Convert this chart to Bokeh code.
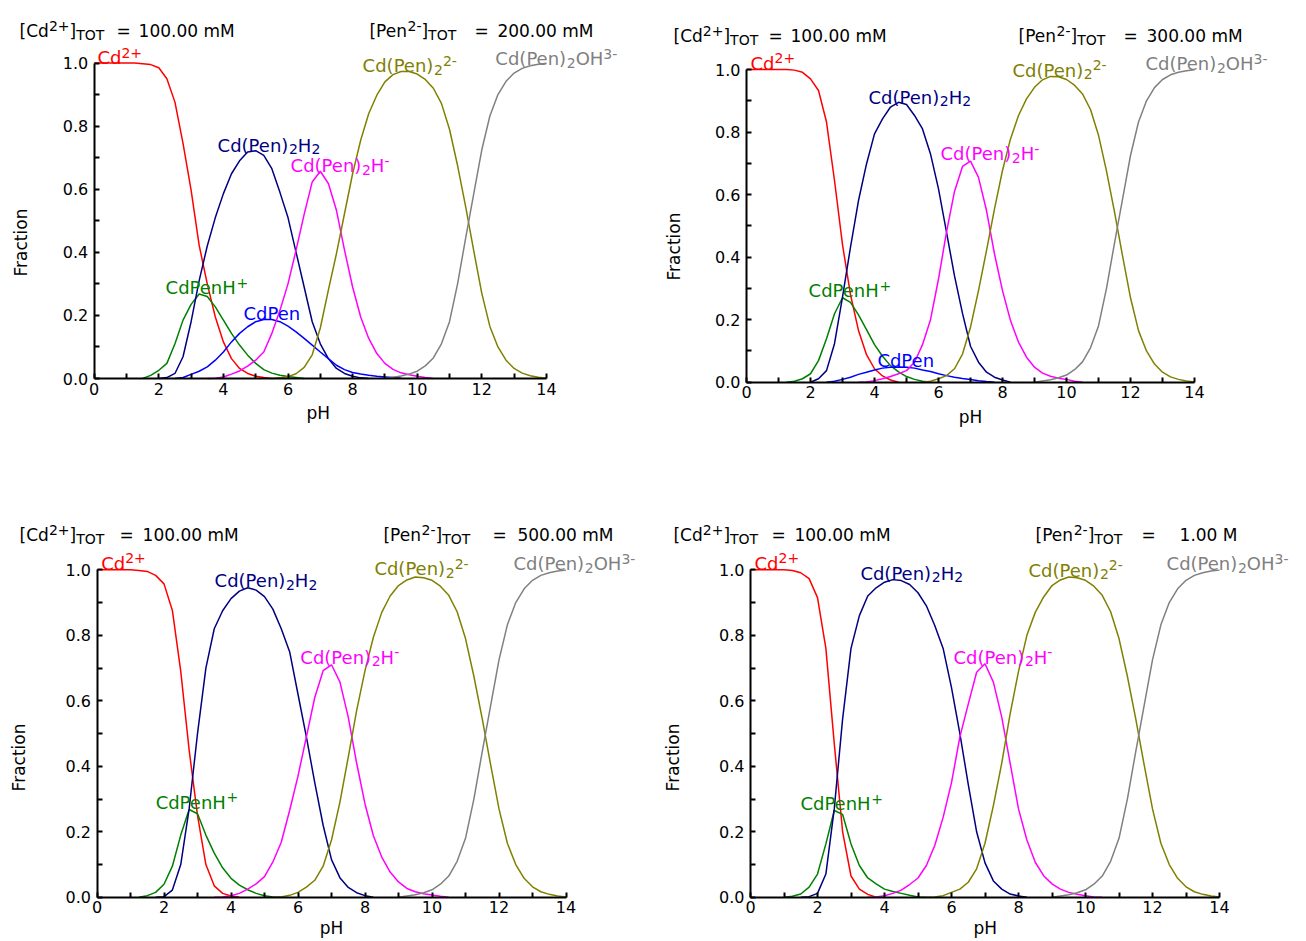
import math
from bokeh.plotting import figure
from bokeh.models import Range1d, Label, FixedTicker, PrintfTickFormatter
from bokeh.layouts import column, row
from bokeh.embed import file_html
from bokeh.resources import INLINE

# ---------------- data (fraction vs pH, sampled every 0.25 pH from a start pH) ----------------
STEP = 0.25
TICKS_X = [0, 2, 4, 6, 8, 10, 12, 14]
MINOR_X = [1, 3, 5, 7, 9, 11, 13]
TICKS_Y = [0.0, 0.2, 0.4, 0.6, 0.8, 1.0]
MINOR_Y = [0.1, 0.3, 0.5, 0.7, 0.9]

CD_TOT = ["100.00 mM", "100.00 mM", "100.00 mM", "100.00 mM"]
PEN_TOT = ["200.00 mM", "300.00 mM", "500.00 mM", "1.00 M"]

# panel 1 : [Pen]tot = 200 mM
P1_CD = (0.0, [1.0, 1.0, 1.0, 1.0, 1.0, 1.0, 0.998, 0.995, 0.985, 0.95, 0.876, 0.745, 0.597, 0.422, 0.30, 0.195,
               0.116, 0.063, 0.032, 0.016, 0.007, 0.003, 0.0])
P1_CDPENH = (1.5, [0.0, 0.01, 0.026, 0.048, 0.11, 0.185, 0.235, 0.268, 0.26, 0.227, 0.185, 0.143, 0.106, 0.074,
                   0.048, 0.028, 0.017, 0.01, 0.006, 0.003, 0.0])
P1_CDPEN2H2 = (2.0, [0.0, 0.003, 0.016, 0.069, 0.18, 0.31, 0.42, 0.51, 0.586, 0.649, 0.69, 0.718, 0.722, 0.707,
                     0.665, 0.59, 0.51, 0.40, 0.29, 0.18, 0.11, 0.063, 0.032, 0.016, 0.007, 0.002, 0.0])
P1_CDPEN = (2.5, [0.0, 0.003, 0.013, 0.023, 0.037, 0.058, 0.084, 0.116, 0.143, 0.164, 0.18, 0.187, 0.187, 0.18,
                  0.166, 0.148, 0.127, 0.106, 0.084, 0.063, 0.042, 0.028, 0.019, 0.014, 0.01, 0.007, 0.005,
                  0.003, 0.001])
P1_CDPEN2H = (3.5, [0.0, 0.001, 0.005, 0.014, 0.024, 0.039, 0.058, 0.084, 0.143, 0.216, 0.30, 0.407, 0.52,
                    0.623, 0.657, 0.618, 0.533, 0.407, 0.29, 0.195, 0.127, 0.079, 0.048, 0.029, 0.018, 0.012,
                    0.007, 0.003, 0.0])
P1_CDPEN2 = (5.5, [0.0, 0.002, 0.006, 0.015, 0.035, 0.075, 0.16, 0.28, 0.396, 0.523, 0.649, 0.755, 0.84, 0.898,
                   0.94, 0.963, 0.973, 0.973, 0.965, 0.948, 0.92, 0.872, 0.79, 0.675, 0.545, 0.405, 0.27, 0.165,
                   0.1, 0.058, 0.032, 0.017, 0.009, 0.004, 0.001])
P1_CDPEN2OH = (9.0, [0.0, 0.004, 0.008, 0.014, 0.023, 0.04, 0.065, 0.11, 0.18, 0.3, 0.445, 0.585, 0.725, 0.832,
                     0.9, 0.942, 0.968, 0.983, 0.991, 0.996, 0.999])

# panel 2 : [Pen]tot = 300 mM
P2_CD = (0.0, [1.0, 1.0, 1.0, 1.0, 1.0, 1.0, 0.998, 0.991, 0.97, 0.933, 0.832, 0.645, 0.44, 0.28, 0.165, 0.088,
               0.043, 0.02, 0.007, 0.0])
P2_CDPENH = (1.25, [0.0, 0.003, 0.011, 0.027, 0.069, 0.139, 0.219, 0.27, 0.255, 0.215, 0.168, 0.12, 0.083, 0.053,
                    0.033, 0.018, 0.009, 0.003, 0.0])
P2_CDPEN2H2 = (2.0, [0.0, 0.011, 0.037, 0.123, 0.272, 0.432, 0.581, 0.698, 0.794, 0.842, 0.88, 0.895, 0.888,
                     0.853, 0.81, 0.73, 0.618, 0.48, 0.34, 0.22, 0.115, 0.064, 0.032, 0.016, 0.007, 0.0])
P2_CDPEN = (2.5, [0.0, 0.003, 0.009, 0.016, 0.025, 0.032, 0.039, 0.045, 0.048, 0.049, 0.048, 0.045, 0.039, 0.034,
                  0.027, 0.021, 0.016, 0.012, 0.009, 0.005, 0.002, 0.0])
P2_CDPEN2H = (3.5, [0.0, 0.001, 0.005, 0.011, 0.018, 0.027, 0.037, 0.064, 0.12, 0.2, 0.33, 0.48, 0.61, 0.69, 0.707,
                    0.655, 0.549, 0.41, 0.293, 0.197, 0.128, 0.08, 0.048, 0.029, 0.019, 0.013, 0.009, 0.003, 0.0])
P2_CDPEN2 = (5.5, [0.0, 0.003, 0.011, 0.021, 0.043, 0.09, 0.176, 0.293, 0.421, 0.554, 0.677, 0.778, 0.853, 0.906,
                   0.943, 0.967, 0.978, 0.977, 0.968, 0.95, 0.922, 0.872, 0.79, 0.675, 0.545, 0.405, 0.27, 0.165,
                   0.1, 0.058, 0.032, 0.017, 0.009, 0.004, 0.001])
P2_CDPEN2OH = (9.0, [0.0, 0.004, 0.008, 0.014, 0.023, 0.04, 0.065, 0.11, 0.18, 0.3, 0.445, 0.585, 0.725, 0.832,
                     0.9, 0.942, 0.968, 0.983, 0.991, 0.996, 0.999])

# panel 3 : [Pen]tot = 500 mM
P3_CD = (0.0, [1.0, 1.0, 1.0, 1.0, 1.0, 0.998, 0.995, 0.983, 0.957, 0.876, 0.69, 0.45, 0.25, 0.1, 0.035, 0.012,
               0.004, 0.0])
P3_CDPENH = (1.25, [0.0, 0.005, 0.015, 0.04, 0.095, 0.19, 0.268, 0.255, 0.19, 0.135, 0.09, 0.058, 0.037, 0.023,
                    0.012, 0.005, 0.001, 0.0])
P3_CDPEN2H2 = (1.75, [0.0, 0.002, 0.022, 0.1, 0.27, 0.5, 0.7, 0.82, 0.875, 0.912, 0.935, 0.945, 0.938, 0.918,
                      0.88, 0.82, 0.75, 0.62, 0.49, 0.35, 0.22, 0.115, 0.06, 0.03, 0.014, 0.005, 0.0])
P3_CDPEN2H = (3.5, [0.0, 0.001, 0.005, 0.012, 0.025, 0.041, 0.063, 0.108, 0.168, 0.265, 0.37, 0.49, 0.61, 0.692,
                    0.71, 0.658, 0.55, 0.41, 0.285, 0.188, 0.123, 0.077, 0.047, 0.027, 0.017, 0.011, 0.007, 0.003,
                    0.0])
P3_CDPEN2 = (5.25, [0.0, 0.001, 0.006, 0.015, 0.031, 0.052, 0.095, 0.175, 0.29, 0.428, 0.57, 0.692, 0.794, 0.87,
                    0.92, 0.952, 0.969, 0.978, 0.976, 0.968, 0.95, 0.922, 0.872, 0.79, 0.675, 0.545, 0.405, 0.27,
                    0.165, 0.1, 0.058, 0.032, 0.017, 0.009, 0.004, 0.001])
P3_CDPEN2OH = (9.0, [0.0, 0.004, 0.008, 0.014, 0.023, 0.04, 0.065, 0.11, 0.18, 0.3, 0.445, 0.585, 0.725, 0.832,
                     0.9, 0.942, 0.968, 0.983, 0.991, 0.996, 0.999])

# panel 4 : [Pen]tot = 1.00 M
P4_CD = (0.0, [1.0, 1.0, 1.0, 1.0, 1.0, 0.998, 0.991, 0.973, 0.915, 0.76, 0.47, 0.2, 0.065, 0.025, 0.009, 0.0])
P4_CDPENH = (1.0, [0.0, 0.003, 0.01, 0.031, 0.071, 0.163, 0.265, 0.253, 0.163, 0.097, 0.059, 0.041, 0.025, 0.018,
                   0.012, 0.006, 0.001, 0.0])
P4_CDPEN2H2 = (1.5, [0.0, 0.002, 0.012, 0.071, 0.27, 0.545, 0.76, 0.86, 0.92, 0.945, 0.962, 0.97, 0.967, 0.955,
                     0.93, 0.89, 0.83, 0.76, 0.64, 0.5, 0.345, 0.2, 0.105, 0.05, 0.025, 0.01, 0.004, 0.0])
P4_CDPEN2H = (3.5, [0.0, 0.001, 0.005, 0.012, 0.022, 0.039, 0.059, 0.097, 0.158, 0.244, 0.35, 0.49, 0.59, 0.687,
                    0.713, 0.657, 0.55, 0.41, 0.27, 0.175, 0.107, 0.066, 0.041, 0.025, 0.015, 0.009, 0.005, 0.001,
                    0.0])
P4_CDPEN2 = (5.25, [0.0, 0.001, 0.005, 0.015, 0.025, 0.046, 0.087, 0.165, 0.28, 0.41, 0.56, 0.69, 0.8, 0.87,
                    0.917, 0.952, 0.969, 0.978, 0.976, 0.968, 0.95, 0.922, 0.872, 0.79, 0.675, 0.545, 0.405, 0.27,
                    0.165, 0.1, 0.058, 0.032, 0.017, 0.009, 0.004, 0.001])
P4_CDPEN2OH = (9.0, [0.0, 0.004, 0.008, 0.014, 0.023, 0.04, 0.065, 0.11, 0.18, 0.3, 0.445, 0.585, 0.725, 0.832,
                     0.9, 0.942, 0.968, 0.983, 0.991, 0.996, 0.999])

# ---------------- styling ----------------
RED, GREEN, NAVY, BLUE, MAGENTA, OLIVE, GRAY = ("#ff0000", "#008000", "#000080", "#0000ff",
                                                "#ff00ff", "#808000", "#808080")
FONT = "DejaVu Sans"
MAIN = 17      # header / axis label size
SPEC = 18      # species label size
SMALL = 14     # sub/superscripts

# DejaVu Sans advance widths (1/1000 em) for run placement
W = {' ': 318, '(': 390, ')': 390, '+': 838, '-': 361, '.': 318, '=': 838, '[': 390, ']': 390,
     'C': 698, 'H': 752, 'M': 863, 'O': 787, 'P': 603, 'T': 611, 'd': 635, 'e': 615, 'm': 974, 'n': 634}
for _d in "0123456789":
    W[_d] = 636


def tw(s, size):
    return sum(W.get(c, 600) for c in s) * size / 1000.0


def rich(p, x, y, runs, color, size=MAIN, small=SMALL):
    off = 0.0
    for txt, kind in runs:
        fs = size if kind == "n" else small
        dy = 0 if kind == "n" else (5 if kind == "sup" else -4)
        p.add_layout(Label(x=x, y=y, x_offset=off, y_offset=dy, text=txt, text_color=color,
                           text_font=FONT, text_font_size=f"{fs}px", text_align="left",
                           text_baseline="alphabetic"))
        off += tw(txt, fs)


LBL_CD = [("Cd", "n"), ("2+", "sup")]
LBL_CDPENH = [("CdPenH", "n"), ("+", "sup")]
LBL_H2 = [("Cd(Pen)", "n"), ("2", "sub"), ("H", "n"), ("2", "sub")]
LBL_CDPEN = [("CdPen", "n")]
LBL_H = [("Cd(Pen)", "n"), ("2", "sub"), ("H", "n"), ("-", "sup")]
LBL_2 = [("Cd(Pen)", "n"), ("2", "sub"), ("2-", "sup")]
LBL_OH = [("Cd(Pen)", "n"), ("2", "sub"), ("OH", "n"), ("3-", "sup")]

# L = pixel column of pH 0 inside the figure, B = pixels from the bottom to fraction 0
PANELS = [
    dict(w=653, h=470, L=93.7, B=92.0, px=32.3, py=315.5,
         series=[(P1_CD, RED), (P1_CDPENH, GREEN), (P1_CDPEN2H2, NAVY), (P1_CDPEN, BLUE),
                 (P1_CDPEN2H, MAGENTA), (P1_CDPEN2, OLIVE), (P1_CDPEN2OH, GRAY)],
         labels=[(LBL_CD, RED, 0.10, 1.017), (LBL_H2, NAVY, 3.82, 0.739), (LBL_H, MAGENTA, 6.08, 0.675),
                 (LBL_CDPENH, GREEN, 2.21, 0.288), (LBL_CDPEN, BLUE, 4.62, 0.206),
                 (LBL_2, OLIVE, 8.31, 0.992), (LBL_OH, GRAY, 12.42, 1.014)],
         hdr_y=1.101, cd_x=-2.31, cd_eq=97, cd_val=119, pen_x=8.52, pen_eq=105, pen_val=128,
         frac=(-2.28, 0.431), ph=(6.94, -0.108)),
    dict(w=653, h=470, L=93.0, B=88.3, px=32.0, py=312.7,
         series=[(P2_CD, RED), (P2_CDPENH, GREEN), (P2_CDPEN2H2, NAVY), (P2_CDPEN, BLUE),
                 (P2_CDPEN2H, MAGENTA), (P2_CDPEN2, OLIVE), (P2_CDPEN2OH, GRAY)],
         labels=[(LBL_CD, RED, 0.125, 1.02), (LBL_H2, NAVY, 3.81, 0.911), (LBL_H, MAGENTA, 6.06, 0.731),
                 (LBL_CDPENH, GREEN, 1.94, 0.293), (LBL_CDPEN, BLUE, 4.09, 0.069),
                 (LBL_2, OLIVE, 8.31, 0.997), (LBL_OH, GRAY, 12.47, 1.018)],
         hdr_y=1.107, cd_x=-2.28, cd_eq=95, cd_val=117, pen_x=8.5, pen_eq=105, pen_val=128,
         frac=(-2.28, 0.434), ph=(7.0, -0.11)),
    dict(w=653, h=471, L=96.5, B=44.2, px=33.5, py=327.5,
         series=[(P3_CD, RED), (P3_CDPENH, GREEN), (P3_CDPEN2H2, NAVY),
                 (P3_CDPEN2H, MAGENTA), (P3_CDPEN2, OLIVE), (P3_CDPEN2OH, GRAY)],
         labels=[(LBL_CD, RED, 0.125, 1.02), (LBL_H2, NAVY, 3.51, 0.967), (LBL_H, MAGENTA, 6.07, 0.733),
                 (LBL_CDPENH, GREEN, 1.75, 0.29),
                 (LBL_2, OLIVE, 8.28, 1.003), (LBL_OH, GRAY, 12.43, 1.018)],
         hdr_y=1.105, cd_x=-2.31, cd_eq=100, cd_val=123, pen_x=8.55, pen_eq=109, pen_val=134,
         frac=(-2.34, 0.427), ph=(7.0, -0.094)),
    dict(w=653, h=471, L=97.0, B=44.2, px=33.5, py=327.5,
         series=[(P4_CD, RED), (P4_CDPENH, GREEN), (P4_CDPEN2H2, NAVY),
                 (P4_CDPEN2H, MAGENTA), (P4_CDPEN2, OLIVE), (P4_CDPEN2OH, GRAY)],
         labels=[(LBL_CD, RED, 0.12, 1.02), (LBL_H2, NAVY, 3.28, 0.99), (LBL_H, MAGENTA, 6.06, 0.733),
                 (LBL_CDPENH, GREEN, 1.49, 0.285),
                 (LBL_2, OLIVE, 8.3, 0.998), (LBL_OH, GRAY, 12.42, 1.018)],
         hdr_y=1.105, cd_x=-2.3, cd_eq=98, cd_val=121, pen_x=8.51, pen_eq=106, pen_val=144,
         frac=(-2.3, 0.427), ph=(7.01, -0.094)),
]


def make_panel(i, cfg):
    w, h, L, B = cfg["w"], cfg["h"], cfg["L"], cfg["B"]
    xr = Range1d(-L / cfg["px"], (w - L) / cfg["px"])
    yr = Range1d(-B / cfg["py"], (h - B) / cfg["py"])
    p = figure(width=w, height=h, x_range=xr, y_range=yr,
               output_backend="svg", toolbar_location=None,
               min_border_left=0, min_border_right=0, min_border_top=0, min_border_bottom=0)
    p.outline_line_color = None
    p.xgrid.visible = False
    p.ygrid.visible = False
    p.background_fill_color = "white"
    p.border_fill_color = "white"

    for ax, ticks, minor, bounds in ((p.xaxis[0], TICKS_X, MINOR_X, (0, 14)),
                                     (p.yaxis[0], TICKS_Y, MINOR_Y, (0, 1))):
        ax.fixed_location = 0
        ax.ticker = FixedTicker(ticks=ticks, minor_ticks=minor)
        ax.bounds = bounds
        ax.axis_line_width = 2
        ax.axis_line_color = "black"
        ax.major_tick_in = 5
        ax.major_tick_out = 0
        ax.minor_tick_in = 5
        ax.minor_tick_out = 0
        ax.major_tick_line_width = 2
        ax.minor_tick_line_width = 2
        ax.major_label_text_font = FONT
        ax.major_label_text_font_size = "16px"
        ax.major_label_text_color = "black"
    p.yaxis[0].formatter = PrintfTickFormatter(format="%.1f")
    p.yaxis[0].major_label_standoff = 6
    p.xaxis[0].major_label_standoff = 4

    for (start, vals), color in cfg["series"]:
        xs = [start + STEP * k for k in range(len(vals))]
        p.line(xs, vals, line_color=color, line_width=1.5)

    for runs, color, x, y in cfg["labels"]:
        rich(p, x, y, runs, color, size=SPEC)

    # header
    y = cfg["hdr_y"]
    rich(p, cfg["cd_x"], y, [("[Cd", "n"), ("2+", "sup"), ("]", "n"), ("TOT", "sub")], "black")
    rich(p, cfg["pen_x"], y, [("[Pen", "n"), ("2-", "sup"), ("]", "n"), ("TOT", "sub")], "black")
    for x0, eq, val, txt in ((cfg["cd_x"], cfg["cd_eq"], cfg["cd_val"], CD_TOT[i]),
                             (cfg["pen_x"], cfg["pen_eq"], cfg["pen_val"], PEN_TOT[i])):
        p.add_layout(Label(x=x0, y=y, x_offset=eq, text="=", text_font=FONT, text_font_size=f"{MAIN}px",
                           text_baseline="alphabetic", text_color="black"))
        p.add_layout(Label(x=x0, y=y, x_offset=val, text=txt, text_font=FONT, text_font_size=f"{MAIN}px",
                           text_baseline="alphabetic", text_color="black"))

    fx, fy = cfg["frac"]
    p.add_layout(Label(x=fx, y=fy, text="Fraction", angle=math.pi / 2, text_align="center",
                       text_baseline="middle", text_font=FONT, text_font_size=f"{MAIN}px", text_color="black"))
    hx, hy = cfg["ph"]
    p.add_layout(Label(x=hx, y=hy, text="pH", text_align="center", text_baseline="middle",
                       text_font=FONT, text_font_size=f"{MAIN}px", text_color="black"))
    return p


figs = [make_panel(i, c) for i, c in enumerate(PANELS)]
layout = column(row(figs[0], figs[1]), row(figs[2], figs[3]))
open("out.html", "w").write(file_html(layout, INLINE))
